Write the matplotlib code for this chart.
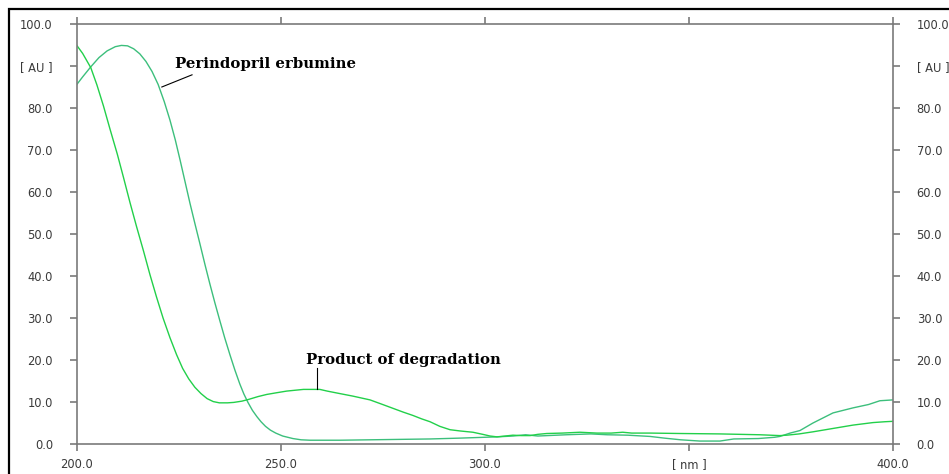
import matplotlib
matplotlib.use("Agg")
import matplotlib.pyplot as plt
from matplotlib.patches import Rectangle

# UV spectra, wavelength [nm] vs absorbance [AU]
nm_deg = [200.0, 201.5, 203.5, 205.0, 206.6, 208.2, 210.0, 211.5, 213.1, 214.7,
          216.4, 218.0, 219.6, 221.2, 222.9, 224.5, 226.0, 227.5, 229.0, 230.5,
          232.0, 233.5, 235.0, 237.0, 238.5, 240.5, 242.1, 244.5, 246.6, 249.0,
          251.5, 255.6, 259.6, 261.4, 264.0, 267.7, 271.9, 275.0, 277.5, 280.0,
          282.4, 284.5, 286.6, 289.0, 291.5, 294.0, 297.1, 299.5, 301.3, 303.0,
          305.0, 306.9, 309.0, 311.1, 313.0, 315.2, 319.0, 323.3, 327.5, 331.0,
          333.8, 336.0, 340.5, 347.8, 357.6, 367.4, 372.3, 374.0, 377.0, 380.4,
          385.3, 390.2, 395.1, 398.0, 400.0]
au_deg = [95.0, 93.0, 89.6, 85.5, 80.5, 75.0, 69.0, 63.5, 57.5, 51.8,
          46.0, 40.3, 35.0, 30.0, 25.3, 21.3, 18.0, 15.5, 13.5, 12.0,
          10.8, 10.1, 9.8, 9.8, 9.9, 10.2, 10.6, 11.3, 11.8, 12.2,
          12.6, 13.0, 13.0, 12.6, 12.1, 11.4, 10.5, 9.4, 8.5, 7.6,
          6.8, 6.0, 5.3, 4.2, 3.4, 3.1, 2.8, 2.3, 1.9, 1.7,
          1.9, 2.1, 2.0, 2.0, 2.3, 2.5, 2.6, 2.8, 2.6, 2.6,
          2.8, 2.6, 2.6, 2.5, 2.4, 2.2, 2.0, 2.1, 2.4, 2.9,
          3.7, 4.5, 5.1, 5.3, 5.4]

nm_per = [200.0, 201.5, 203.5, 205.5, 207.5, 209.5, 211.0, 212.5, 214.0, 215.5,
          217.0, 218.5, 220.0, 221.5, 222.9, 224.2, 225.4, 226.6, 227.8, 229.0,
          230.2, 231.5, 232.7, 233.9, 235.1, 236.3, 237.6, 238.8, 240.0, 241.0,
          242.0, 243.1, 244.2, 245.2, 246.3, 247.5, 248.8, 250.5, 253.0, 255.0,
          257.2, 264.5, 271.9, 279.2, 286.6, 293.9, 300.0, 303.0, 307.0, 310.0,
          313.0, 320.0, 326.0, 330.0, 335.0, 340.5, 344.0, 348.0, 352.7, 357.6,
          361.0, 367.0, 371.0, 372.3, 374.8, 377.2, 380.4, 385.3, 390.2, 394.0,
          396.8, 400.0]
au_per = [85.5, 87.4, 89.8, 92.0, 93.6, 94.6, 94.9, 94.8, 94.1, 92.9,
          91.1, 88.7, 85.6, 81.5, 77.1, 72.4, 67.5, 62.4, 57.3, 52.5,
          47.8, 42.6, 38.0, 33.6, 29.4, 25.3, 21.2, 17.6, 14.3, 11.9,
          9.9, 8.0, 6.5, 5.3, 4.2, 3.3, 2.6, 1.9, 1.3, 1.0,
          0.9, 0.9, 1.0, 1.1, 1.2, 1.4, 1.6, 1.7, 1.9, 2.2,
          1.9, 2.2, 2.4, 2.2, 2.1, 1.8, 1.4, 1.0, 0.7, 0.7,
          1.2, 1.3, 1.6, 1.8, 2.6, 3.2, 5.0, 7.4, 8.6, 9.4,
          10.3, 10.5]

x_ticks = [200, 250, 300, 350, 400]
x_labels = ["200.0", "250.0", "300.0", "[ nm ]", "400.0"]
y_ticks = [0, 10, 20, 30, 40, 50, 60, 70, 80, 90, 100]
y_labels = ["0.0", "10.0", "20.0", "30.0", "40.0", "50.0", "60.0", "70.0",
            "80.0", "[ AU ]", "100.0"]

fig = plt.figure(figsize=(9.49, 4.74), dpi=100)
ax = fig.add_axes([76.5 / 949, 1 - 444 / 474, (893 - 76.5) / 949, 420 / 474])

# outer frame (top and left edges visible)
fig.patches.append(Rectangle((9 / 949, -0.1), 1.2, 1 - 9 / 474 + 0.1,
                             transform=fig.transFigure, fill=False,
                             edgecolor="black", linewidth=1.6))

ax.plot(nm_per, au_per, color="#3cbf7c", lw=1.0)
ax.plot(nm_deg, au_deg, color="#22d04a", lw=1.0)

ax.set_xlim(200, 400)
ax.set_ylim(0, 100)

ax.set_xticks(x_ticks)
ax.set_xticklabels(x_labels)
ax.set_yticks(y_ticks)
ax.set_yticklabels(y_labels)

grey = "#7a7a7a"
for s in ax.spines.values():
    s.set_color(grey)
    s.set_linewidth(1.2)
ax.tick_params(axis="both", direction="out", length=5, width=1.2, color=grey,
               labelsize=8.3, labelcolor="#3a3a3a")
ax.tick_params(axis="y", left=True, right=True, labelleft=True, labelright=True, pad=12)
ax.tick_params(axis="x", top=True, bottom=True, pad=5)

# labels with leader lines
ax.plot([220.9, 228.3], [85.0, 87.9], color="black", lw=0.8)
ax.text(224.1, 90.4, "Perindopril erbumine", fontfamily="DejaVu Serif",
        fontweight="bold", fontsize=10.7, ha="left", va="center")
ax.plot([258.8, 258.8], [13.1, 18.1], color="black", lw=0.8)
ax.text(256.2, 20.1, "Product of degradation", fontfamily="DejaVu Serif",
        fontweight="bold", fontsize=10.7, ha="left", va="center")

fig.savefig("out.png", dpi=100)
